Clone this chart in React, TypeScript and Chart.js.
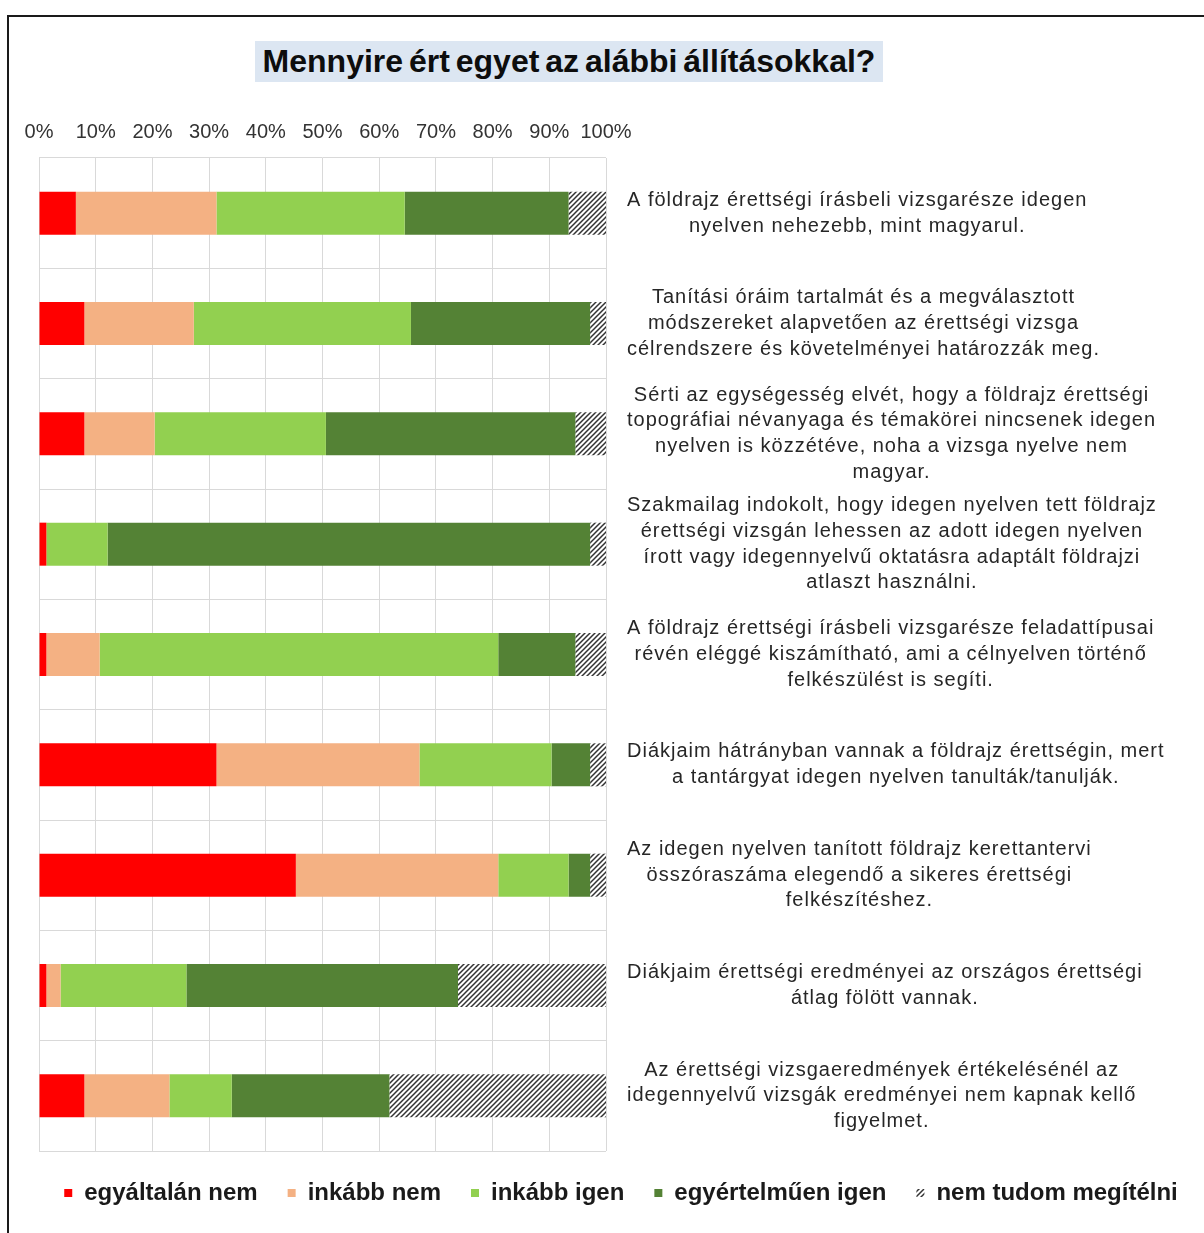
import React, { useEffect, useRef } from "react";
import { Chart, registerables } from "chart.js";

Chart.register(...registerables);

// ---- data ----
const categories: string[][] = [
  ["A földrajz érettségi írásbeli vizsgarésze idegen", "nyelven nehezebb, mint magyarul."],
  ["Tanítási óráim tartalmát és a megválasztott", "módszereket alapvetően az érettségi vizsga", "célrendszere és követelményei határozzák meg."],
  ["Sérti az egységesség elvét, hogy a földrajz érettségi", "topográfiai névanyaga és témakörei nincsenek idegen", "nyelven is közzétéve, noha a vizsga nyelve nem", "magyar."],
  ["Szakmailag indokolt, hogy idegen nyelven tett földrajz", "érettségi vizsgán lehessen az adott idegen nyelven", "írott vagy idegennyelvű oktatásra adaptált földrajzi", "atlaszt használni."],
  ["A földrajz érettségi írásbeli vizsgarésze feladattípusai", "révén eléggé kiszámítható, ami a célnyelven történő", "felkészülést is segíti."],
  ["Diákjaim hátrányban vannak a földrajz érettségin, mert", "a tantárgyat idegen nyelven tanulták/tanulják."],
  ["Az idegen nyelven tanított földrajz kerettantervi", "összóraszáma elegendő a sikeres érettségi", "felkészítéshez."],
  ["Diákjaim érettségi eredményei az országos érettségi", "átlag fölött vannak."],
  ["Az érettségi vizsgaeredmények értékelésénél az", "idegennyelvű vizsgák eredményei nem kapnak kellő", "figyelmet."],
];

const seriesNames = ["egyáltalán nem", "inkább nem", "inkább igen", "egyértelműen igen", "nem tudom megítélni"];

const egyaltalanNem = [6.5, 8.0, 8.0, 1.3, 1.3, 31.3, 45.3, 1.3, 8.0];
const inkabbNem = [24.8, 19.3, 12.4, 0, 9.4, 35.8, 35.7, 2.5, 15.0];
const inkabbIgen = [33.2, 38.3, 30.2, 10.8, 70.3, 23.3, 12.4, 22.2, 11.0];
const egyertelmuenIgen = [28.9, 31.6, 44.0, 85.1, 13.6, 6.8, 3.8, 47.9, 27.8];
const nemTudom = [6.6, 2.8, 5.4, 2.8, 5.4, 2.8, 2.8, 26.1, 38.2];

const tickLabels = ["0%", "10%", "20%", "30%", "40%", "50%", "60%", "70%", "80%", "90%", "100%"];

const titleText = "Mennyire ért egyet az alábbi állításokkal?";

const FONT = '"Liberation Sans", Arial, Helvetica, sans-serif';

function makeHatch(): CanvasPattern | string {
  const s = 5;
  const c = document.createElement("canvas");
  c.width = s;
  c.height = s;
  const g = c.getContext("2d");
  if (!g) return "#444";
  g.fillStyle = "#ffffff";
  g.fillRect(0, 0, s, s);
  g.strokeStyle = "#333333";
  g.lineWidth = 1.5;
  g.beginPath();
  g.moveTo(-1, s + 1);
  g.lineTo(s + 1, -1);
  g.moveTo(-1, 1);
  g.lineTo(1, -1);
  g.moveTo(s - 1, s + 1);
  g.lineTo(s + 1, s - 1);
  g.stroke();
  const p = g.createPattern(c, "repeat");
  return p || "#444";
}

const rightLabelsPlugin = {
  id: "rightLabels",
  afterDraw(chart: any) {
    const ctx: CanvasRenderingContext2D = chart.ctx;
    const yScale = chart.scales.y;
    const x0 = chart.chartArea.right + 21;
    const lh = 25.7;
    ctx.save();
    ctx.font = `20px ${FONT}`;
    (ctx as any).letterSpacing = "1px";
    ctx.fillStyle = "#262626";
    ctx.textAlign = "center";
    ctx.textBaseline = "middle";
    categories.forEach((lines, i) => {
      const cy = yScale.getPixelForValue(i);
      let widest = 0;
      lines.forEach((l) => {
        widest = Math.max(widest, ctx.measureText(l).width);
      });
      const cx = x0 + widest / 2;
      lines.forEach((l, j) => {
        ctx.fillText(l, cx, cy + (j - (lines.length - 1) / 2) * lh);
      });
    });
    ctx.restore();
  },
};

export default function App() {
  const canvasRef = useRef<HTMLCanvasElement | null>(null);

  useEffect(() => {
    document.body.style.margin = "0";
    document.body.style.overflow = "hidden";
    const canvas = canvasRef.current;
    if (!canvas) return;
    const hatch = makeHatch();
    const colors = ["#ff0000", "#f4b183", "#92d050", "#548235", hatch];
    const values = [egyaltalanNem, inkabbNem, inkabbIgen, egyertelmuenIgen, nemTudom];

    const chart = new Chart(canvas, {
      type: "bar",
      data: {
        labels: categories.map((c) => c.join(" ")),
        datasets: seriesNames.map((name, k) => ({
          label: name,
          data: values[k],
          backgroundColor: colors[k] as any,
          borderWidth: 0,
          categoryPercentage: 1,
          barPercentage: 0.39,
        })),
      },
      options: {
        indexAxis: "y",
        animation: false,
        responsive: false,
        maintainAspectRatio: false,
        layout: { padding: { left: 0, top: 6, right: 0, bottom: 18 } },
        scales: {
          x: {
            type: "linear",
            position: "top",
            stacked: true,
            min: 0,
            max: 100,
            ticks: {
              stepSize: 10,
              autoSkip: false,
              maxRotation: 0,
              padding: 14,
              color: "#333333",
              font: { family: FONT, size: 20 },
              callback: (_v: any, i: number) => tickLabels[i],
            },
            grid: { color: "#d9d9d9", lineWidth: 1, drawTicks: false },
            border: { display: false },
          },
          y: {
            position: "right",
            stacked: true,
            ticks: { display: false },
            grid: { color: "#d9d9d9", lineWidth: 1, drawTicks: false },
            border: { display: false },
            afterFit: (s: any) => {
              s.width = 628;
            },
          },
          leftSpacer: {
            type: "linear",
            position: "left",
            display: true,
            ticks: { display: false },
            grid: { display: false, drawTicks: false },
            border: { display: false },
            afterFit: (s: any) => {
              s.width = 31;
            },
          },
        },
        plugins: {
          legend: {
            position: "bottom",
            align: "center",
            labels: {
              boxWidth: 8,
              boxHeight: 8,
              padding: 30,
              color: "#1a1a1a",
              font: { family: FONT, size: 24, weight: "bold" },
            },
          },
          tooltip: { enabled: false },
          title: { display: false },
        },
      },
      plugins: [rightLabelsPlugin],
    } as any);

    return () => chart.destroy();
  }, []);

  return (
    <div style={{ position: "relative", width: 1204, height: 1233, overflow: "hidden", background: "#fff" }}>
      <div
        style={{
          position: "absolute",
          left: 7,
          top: 15,
          width: 1240,
          height: 1260,
          border: "2px solid #1a1a1a",
          boxSizing: "border-box",
        }}
      />
      <div
        style={{
          position: "absolute",
          left: 255,
          top: 41,
          width: 628,
          height: 41,
          background: "#dce6f2",
          color: "#0d0d0d",
          fontFamily: FONT,
          fontWeight: "bold",
          fontSize: 32,
          wordSpacing: "-3px",
          lineHeight: "41px",
          textAlign: "center",
          whiteSpace: "nowrap",
        }}
      >
        {titleText}
      </div>
      <canvas
        ref={canvasRef}
        width={1226}
        height={1133}
        style={{ position: "absolute", left: 8, top: 100, width: 1226, height: 1133 }}
      />
    </div>
  );
}
